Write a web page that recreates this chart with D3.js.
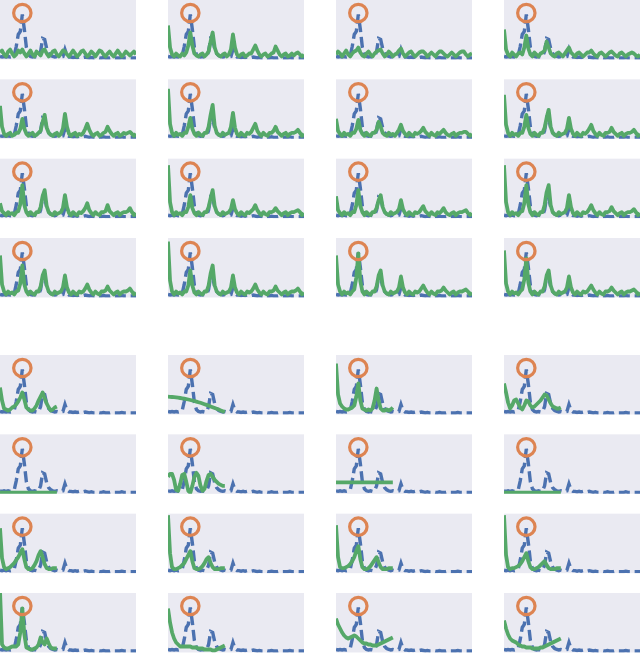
<!DOCTYPE html>
<html><head><meta charset="utf-8">
<script src="https://cdn.jsdelivr.net/npm/d3@7"></script>
<style>html,body{margin:0;padding:0;background:#fff}</style>
</head><body>
<svg id="c" width="640" height="656"></svg>
<script>
// target spectrum (blue dashed), 68 samples
const target = [3,2.5,3,2.5,3,2.5,3,4,13,25,28,45,30,12,5,3,2.5,3,2.5,3,8,21,20,11,6,4,3,2.5,3,2.5,2.5,3,10,4,2.5,2.5,2,2.5,2,2.5,2,2,2.5,2,1.5,2,1.5,1.5,2,1.5,1.5,2,1.5,1.5,1.5,2,1.5,1.5,1.5,1.5,2,1.5,1.5,1.5,1.5,1.5,1.5,1.5];

// upper block: full-length reconstructions (green), row by row
const topRow1 = [
 [7,9,5,3,8,10,6,3,5,9,7,10,6,3,6,9,5,3,8,6,4,9,10,6,3,5,8,9,5,3,6,9,8,5,3,6,9,6,3,5,8,9,6,3,5,8,6,3,6,9,8,5,3,6,8,5,3,6,9,6,3,5,8,6,4,6,8,5],
 [34,12,5,3,6,4,3,6,4,7,14,27,14,6,4,3,5,6,3,5,8,18,27,12,6,4,3,5,6,3,5,10,25,12,5,3,5,6,3,4,6,6,10,14,9,5,3,5,6,3,4,6,7,13,9,5,3,5,6,3,4,6,4,6,7,5,3,5],
 [5,8,6,3,6,9,5,3,6,8,9,12,7,4,3,6,8,5,3,6,8,9,10,6,3,5,8,6,3,5,6,9,11,6,3,5,7,8,5,3,5,7,8,8,6,3,5,7,5,3,6,8,8,6,4,3,5,7,5,3,5,7,8,8,5,3,5,6],
 [30,10,5,3,7,5,3,6,7,5,12,24,11,5,3,7,5,3,6,7,9,18,12,6,4,3,6,7,5,3,6,9,12,7,5,3,6,7,5,3,5,7,7,9,6,4,3,6,7,5,3,5,7,8,6,4,3,6,7,5,3,5,6,7,6,4,3,5]
];
const topRow2 = [
 [33,12,5,3,5,6,3,4,6,6,10,20,10,5,3,5,6,3,4,6,8,17,24,11,6,4,3,5,6,3,5,10,25,12,5,3,5,6,3,5,4,6,10,15,9,5,3,5,6,3,4,6,7,12,8,5,3,5,6,3,4,6,5,6,7,5,3,5],
 [50,15,6,3,6,4,5,3,6,6,12,21,10,5,3,6,4,3,6,6,12,24,34,13,6,4,3,6,4,5,6,12,26,11,5,3,6,4,3,6,5,7,11,15,8,5,3,6,4,3,6,6,8,12,7,5,3,5,6,3,5,6,6,7,9,6,3,5],
 [20,8,5,3,6,4,5,3,6,6,10,19,9,5,3,6,4,3,6,6,9,17,12,6,4,3,6,4,5,3,6,9,14,8,5,3,6,4,3,6,5,6,8,11,7,5,3,6,4,3,6,5,7,9,6,4,3,5,6,3,5,6,6,7,7,5,3,5],
 [44,14,6,3,6,4,5,3,6,6,12,24,11,5,3,6,4,3,6,6,11,21,29,12,6,4,3,6,4,5,6,10,21,10,5,3,6,4,3,6,5,7,10,14,8,5,3,6,4,3,6,6,7,11,7,5,3,5,6,3,5,6,6,7,9,6,3,5]
];
const topRow3 = [
 [15,7,5,3,6,4,5,3,6,7,14,33,13,6,3,6,4,3,6,6,11,22,28,12,6,4,3,6,4,5,6,10,23,11,5,3,6,4,3,6,5,7,10,15,8,5,3,6,4,3,6,6,7,13,7,5,3,5,6,3,5,6,6,7,10,6,3,5],
 [53,16,6,3,6,4,5,3,6,6,11,23,10,5,3,6,4,3,6,6,11,20,28,12,6,4,3,6,4,5,6,9,18,9,5,3,6,4,3,6,5,7,9,13,8,5,3,6,4,3,6,6,7,10,7,5,3,5,6,3,5,6,6,7,8,6,3,5],
 [22,8,5,3,6,4,5,3,6,6,13,28,12,6,3,6,4,3,6,6,10,18,23,11,6,4,3,6,4,5,6,9,18,9,5,3,6,4,3,6,5,6,9,12,7,5,3,6,4,3,6,5,7,10,6,4,3,5,6,3,5,6,6,7,8,5,3,5],
 [53,16,6,3,6,4,5,3,6,7,15,33,14,6,3,6,4,3,6,6,13,26,33,13,6,4,3,6,4,5,6,10,23,11,5,3,6,4,3,6,5,6,9,13,8,5,3,6,4,3,6,6,7,11,7,5,3,5,6,3,5,6,6,7,9,6,3,5]
];
const topRow4 = [
 [42,13,6,3,6,4,5,3,6,7,14,32,13,6,3,6,4,3,6,6,11,22,27,12,6,4,3,6,4,5,6,10,22,10,5,3,6,4,3,6,5,6,9,13,8,5,3,6,4,3,6,6,7,11,7,5,3,5,6,3,5,6,6,7,9,6,3,5],
 [56,17,6,3,6,4,5,3,6,6,12,27,12,5,3,6,4,3,6,6,12,24,32,12,6,4,3,6,4,5,6,10,22,10,5,3,6,4,3,6,5,6,9,13,8,5,3,6,4,3,6,6,7,11,7,5,3,5,6,3,5,6,6,7,9,6,3,5],
 [42,13,6,3,6,4,5,3,6,8,20,44,16,6,3,6,4,3,6,6,11,22,27,12,6,4,3,6,4,5,6,10,21,10,5,3,6,4,3,6,5,6,9,12,8,5,3,6,4,3,6,6,7,10,7,5,3,5,6,3,5,6,6,7,8,6,3,5],
 [47,14,6,3,6,4,5,3,6,8,18,39,15,6,3,6,4,3,6,6,11,22,27,12,6,4,3,6,4,5,6,10,21,10,5,3,6,4,3,6,5,6,9,12,8,5,3,6,4,3,6,6,7,10,7,5,3,5,6,3,5,6,6,7,8,6,3,5]
];
// lower block: short reconstructions (green), 29 samples each
const lowRow1 = [
 [27,14,6,5,4,5,7,8,10,13,17,22,15,7,5,4,4,6,9,14,18,22,16,11,7,4,5,7,8],
 [17.8,17.7,17.5,17.3,17.1,16.8,16.5,16.2,15.8,15.4,15,14.5,14,13.5,12.9,12.3,11.7,11,10.3,9.6,8.9,8.1,7.3,6.5,5.7,4.9,4.1,3.3,2.5],
 [51,20,11,8,6,5,5,6,7,9,18,31,14,6,5,4,5,4,6,14,26,14,6,4,4,5,4,5,7],
 [31,22,12,6,9,14,15,11,7,5,9,14,13,9,7,8,10,12,14,17,20,19,15,11,8,7,6,6,7]
];
const lowRow2 = [
 [1.2,1.2,1.2,1.2,1.2,1.2,1.2,1.2,1.2,1.2,1.2,1.2,1.2,1.2,1.2,1.2,1.2,1.2,1.2,1.2,1.2,1.2,1.2,1.2,1.2,1.2,1.2,1.2,1.2],
 [17,20,20,14,4,3,10,19,20,12,3,1,8,17,21,18,8,3,5,13,19,20,17,14,12,10,9,8,8],
 [11.5,11.5,11.5,11.5,11.5,11.5,11.5,11.5,11.5,11.5,11.5,11.5,11.5,11.5,11.5,11.5,11.5,11.5,11.5,11.5,11.5,11.5,11.5,11.5,11.5,11.5,11.5,11.5,11.5],
 [1.2,1.2,1.2,1.2,1.2,1.2,1.2,1.2,1.2,1.2,1.2,1.2,1.2,1.2,1.2,1.2,1.2,1.2,1.2,1.2,1.2,1.2,1.2,1.2,1.2,1.2,1.2,1.2,1.2]
];
const lowRow3 = [
 [45,15,6,4,5,6,8,10,13,16,20,24,14,6,4,4,5,8,12,18,22,16,9,5,4,4,5,5,5],
 [58,20,6,4,4,5,6,8,10,14,18,22,12,5,4,4,5,7,10,14,16,10,6,4,4,4,5,5,5],
 [48,16,6,5,5,6,7,9,12,16,22,27,14,6,4,4,5,7,10,13,16,11,6,4,4,4,5,5,5],
 [58,18,6,4,5,5,6,7,9,12,16,20,12,6,4,4,5,6,8,10,12,8,5,4,4,4,5,5,5]
];
const lowRow4 = [
 [62,8,5,4,4,5,6,6,6,8,20,44,18,5,4,3,3,4,5,8,15,10,8,14,9,5,4,4,4],
 [44,30,20,14,10,8,6,6,6,6,6,6,5,5,5,4,4,4,3,3,3,3,2,2,3,4,5,6,7],
 [34,28,24,20,17,15,14,15,16,17,16,14,12,10,9,9,8,8,7,7,7,8,9,10,11,12,13,14,15],
 [32,24,18,14,12,11,10,8,7,6,6,5,5,5,4,4,4,4,5,5,6,7,8,9,10,11,12,13,14]
];

const topRows = [topRow1, topRow2, topRow3, topRow4];
const lowRows = [lowRow1, lowRow2, lowRow3, lowRow4];

const W = 136, H = 59.5, colStep = 168, rowStep = 79.33, lowTop = 355;
const svg = d3.select("#c");
const defs = svg.append("defs");
defs.append("clipPath").attr("id","pc").append("rect").attr("width",W).attr("height",H);

const x = d3.scaleLinear().domain([0, target.length - 1]).range([0, W]);
const y = d3.scaleLinear().domain([0, H]).range([H, 0]);
const line = d3.line().x((d,i)=>x(i)).y(d=>y(d));
const peakIdx = d3.maxIndex(target);

function panel(gx, gy, green){
  const g = svg.append("g").attr("transform",`translate(${gx},${gy})`);
  g.append("rect").attr("width",W).attr("height",H).attr("fill","#EAEAF2");
  const c = g.append("g").attr("clip-path","url(#pc)");
  c.append("path").datum(target).attr("d",line).attr("fill","none")
   .attr("stroke","#4C72B0").attr("stroke-width",3.4).attr("stroke-dasharray","11.1,4.8");
  c.append("path").datum(green).attr("d",line).attr("fill","none")
   .attr("stroke","#55A868").attr("stroke-width",3.8).attr("stroke-linejoin","round");
  g.append("circle").attr("cx",x(peakIdx)).attr("cy",y(target[peakIdx]) - 1.5).attr("r",8.7)
   .attr("fill","none").attr("stroke","#DD8452").attr("stroke-width",3.2);
}
topRows.forEach((row,r)=>row.forEach((s,c)=>panel(c*colStep, r*rowStep, s)));
lowRows.forEach((row,r)=>row.forEach((s,c)=>panel(c*colStep, lowTop + r*rowStep, s)));
</script>
</body></html>
